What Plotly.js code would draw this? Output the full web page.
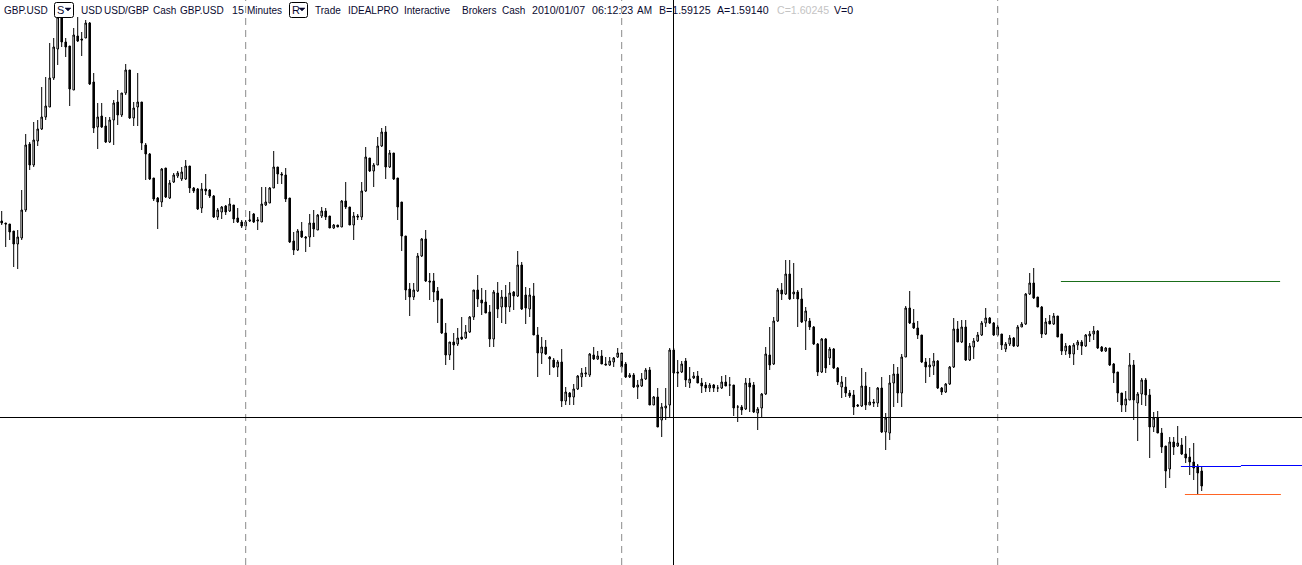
<!DOCTYPE html>
<html>
<head>
<meta charset="utf-8">
<script src="https://cdn.plot.ly/plotly-3.0.1.min.js"></script>
<style>
  html, body { margin: 0; padding: 0; background: #ffffff; }
  #chart { width: 1302px; height: 565px; }
</style>
</head>
<body>
<div id="chart"></div>
<script>
// ---- 15-minute GBP.USD bars ----
const openPrices = [
1.6179,1.6177,1.6176,1.6169,1.6156,1.6162,1.6190,1.6256,1.6235,1.6259,
1.6271,1.6283,1.6293,1.6322,1.6351,1.6383,1.6358,1.6354,1.6310,1.6364,
1.6361,1.6362,1.6377,1.6318,1.6273,1.6284,1.6274,1.6258,1.6280,1.6298,
1.6285,1.6307,1.6330,1.6282,1.6293,1.6298,1.6255,1.6246,1.6222,1.6202,
1.6198,1.6232,1.6202,1.6218,1.6224,1.6221,1.6221,1.6234,1.6212,1.6211,
1.6192,1.6211,1.6210,1.6204,1.6183,1.6188,1.6194,1.6189,1.6195,1.6182,
1.6178,1.6174,1.6179,1.6186,1.6179,1.6178,1.6195,1.6197,1.6212,1.6233,
1.6226,1.6225,1.6202,1.6159,1.6150,1.6169,1.6163,1.6163,1.6177,1.6170,
1.6184,1.6189,1.6184,1.6172,1.6175,1.6173,1.6199,1.6193,1.6175,1.6184,
1.6183,1.6209,1.6242,1.6229,1.6235,1.6254,1.6268,1.6233,1.6247,1.6222,
1.6198,1.6164,1.6111,1.6103,1.6109,1.6144,1.6161,1.6119,1.6119,1.6109,
1.6101,1.6067,1.6045,1.6058,1.6056,1.6063,1.6062,1.6068,1.6083,1.6110,
1.6100,1.6098,1.6088,1.6061,1.6107,1.6093,1.6103,1.6093,1.6108,1.6104,
1.6135,1.6105,1.6091,1.6104,1.6065,1.6047,1.6053,1.6043,1.6040,1.6033,
1.6038,1.5999,1.6007,1.6003,1.6011,1.6023,1.6026,1.6025,1.6045,1.6041,
1.6044,1.6036,1.6035,1.6038,1.6043,1.6047,1.6036,1.6023,1.6025,1.6013,
1.6014,1.6021,1.6030,1.5995,1.6003,1.5980,1.5992,1.5995,1.6027,1.6028,
1.6028,1.6039,1.6017,1.6022,1.6024,1.6017,1.6015,1.6012,1.6015,1.6012,
1.6012,1.6018,1.6015,1.6015,1.5993,1.5993,1.5991,1.6017,1.6015,1.5987,
1.5992,1.6006,1.6045,1.6036,1.6079,1.6110,1.6106,1.6126,1.6106,1.6108,
1.6101,1.6079,1.6079,1.6073,1.6056,1.6028,1.6061,1.6042,1.6051,1.6032,
1.6013,1.6013,1.6007,1.6005,1.5995,1.5994,1.6014,1.5995,1.5998,1.5997,
1.6012,1.5968,1.5967,1.6017,1.6026,1.6007,1.6043,1.6092,1.6077,1.6072,
1.6065,1.6038,1.6033,1.6034,1.6039,1.6012,1.6008,1.6016,1.6033,1.6071,
1.6058,1.6073,1.6040,1.6053,1.6059,1.6065,1.6077,1.6082,1.6077,1.6065,
1.6066,1.6051,1.6056,1.6062,1.6054,1.6073,1.6076,1.6106,1.6117,1.6103,
1.6093,1.6066,1.6079,1.6076,1.6084,1.6066,1.6049,1.6054,1.6046,1.6055,
1.6058,1.6054,1.6064,1.6066,1.6069,1.6053,1.6049,1.6052,1.6036,1.6028,
1.6007,1.5995,1.6000,1.6035,1.5997,1.6006,1.6020,1.6005,1.5973,1.5982,
1.5967,1.5954,1.5931,1.5958,1.5954,1.5955,1.5946,1.5943,1.5938,1.5934,
1.5929
];
const highPrices = [
1.6189,1.6177,1.6176,1.6169,1.6170,1.6210,1.6266,1.6258,1.6278,1.6280,
1.6313,1.6323,1.6357,1.6362,1.6385,1.6385,1.6362,1.6354,1.6372,1.6383,
1.6368,1.6380,1.6378,1.6327,1.6297,1.6297,1.6283,1.6283,1.6300,1.6310,
1.6307,1.6336,1.6330,1.6298,1.6327,1.6298,1.6257,1.6247,1.6222,1.6203,
1.6232,1.6232,1.6220,1.6227,1.6229,1.6233,1.6240,1.6234,1.6213,1.6212,
1.6217,1.6226,1.6211,1.6205,1.6192,1.6194,1.6195,1.6202,1.6195,1.6192,
1.6180,1.6180,1.6189,1.6187,1.6183,1.6213,1.6213,1.6213,1.6249,1.6233,
1.6228,1.6232,1.6202,1.6168,1.6171,1.6178,1.6164,1.6186,1.6190,1.6186,
1.6193,1.6192,1.6184,1.6176,1.6175,1.6200,1.6218,1.6193,1.6188,1.6186,
1.6218,1.6253,1.6242,1.6237,1.6263,1.6272,1.6274,1.6250,1.6247,1.6222,
1.6198,1.6164,1.6117,1.6117,1.6147,1.6162,1.6170,1.6127,1.6127,1.6113,
1.6101,1.6077,1.6058,1.6067,1.6072,1.6083,1.6075,1.6084,1.6110,1.6125,
1.6112,1.6110,1.6095,1.6110,1.6118,1.6110,1.6115,1.6118,1.6109,1.6149,
1.6138,1.6113,1.6112,1.6117,1.6073,1.6063,1.6060,1.6044,1.6042,1.6040,
1.6051,1.6013,1.6008,1.6016,1.6025,1.6032,1.6033,1.6047,1.6053,1.6049,
1.6050,1.6043,1.6043,1.6043,1.6052,1.6047,1.6038,1.6027,1.6027,1.6020,
1.6027,1.6032,1.6033,1.6004,1.6012,1.5997,1.6012,1.6052,1.6052,1.6040,
1.6039,1.6042,1.6033,1.6028,1.6029,1.6022,1.6018,1.6017,1.6016,1.6015,
1.6024,1.6025,1.6023,1.6015,1.5995,1.5995,1.6022,1.6022,1.6018,1.5993,
1.6007,1.6053,1.6073,1.6083,1.6112,1.6117,1.6140,1.6140,1.6137,1.6110,
1.6112,1.6093,1.6082,1.6074,1.6057,1.6062,1.6062,1.6053,1.6052,1.6033,
1.6024,1.6023,1.6010,1.6010,1.5996,1.6032,1.6028,1.6013,1.6001,1.6013,
1.6023,1.5987,1.6025,1.6036,1.6033,1.6046,1.6094,1.6109,1.6091,1.6079,
1.6065,1.6042,1.6042,1.6047,1.6040,1.6013,1.6017,1.6034,1.6082,1.6079,
1.6080,1.6080,1.6057,1.6062,1.6068,1.6079,1.6092,1.6083,1.6078,1.6075,
1.6066,1.6058,1.6065,1.6063,1.6075,1.6078,1.6107,1.6127,1.6132,1.6103,
1.6094,1.6082,1.6085,1.6087,1.6084,1.6066,1.6057,1.6055,1.6057,1.6060,
1.6060,1.6066,1.6069,1.6074,1.6070,1.6054,1.6053,1.6052,1.6037,1.6028,
1.6007,1.6009,1.6047,1.6040,1.6008,1.6022,1.6022,1.6011,1.5988,1.5989,
1.5972,1.5954,1.5963,1.5963,1.5974,1.5962,1.5964,1.5952,1.5957,1.5936,
1.5933
];
const lowPrices = [
1.6175,1.6153,1.6160,1.6133,1.6131,1.6160,1.6188,1.6230,1.6233,1.6254,
1.6270,1.6280,1.6293,1.6320,1.6335,1.6353,1.6343,1.6294,1.6310,1.6358,
1.6344,1.6362,1.6315,1.6267,1.6251,1.6272,1.6257,1.6257,1.6255,1.6275,
1.6283,1.6305,1.6281,1.6274,1.6274,1.6250,1.6220,1.6220,1.6199,1.6171,
1.6193,1.6202,1.6201,1.6217,1.6222,1.6219,1.6220,1.6207,1.6207,1.6190,
1.6187,1.6205,1.6202,1.6182,1.6180,1.6181,1.6185,1.6188,1.6177,1.6177,
1.6172,1.6170,1.6178,1.6177,1.6170,1.6178,1.6194,1.6197,1.6212,1.6216,
1.6216,1.6198,1.6157,1.6145,1.6149,1.6162,1.6148,1.6153,1.6163,1.6170,
1.6182,1.6180,1.6172,1.6171,1.6173,1.6173,1.6191,1.6175,1.6160,1.6180,
1.6180,1.6208,1.6228,1.6213,1.6235,1.6253,1.6221,1.6232,1.6220,1.6180,
1.6149,1.6100,1.6084,1.6100,1.6108,1.6143,1.6118,1.6100,1.6098,1.6077,
1.6066,1.6035,1.6040,1.6030,1.6054,1.6060,1.6061,1.6067,1.6080,1.6093,
1.6085,1.6087,1.6053,1.6053,1.6082,1.6077,1.6076,1.6088,1.6090,1.6103,
1.6090,1.6076,1.6083,1.6065,1.6023,1.6036,1.6045,1.6025,1.6032,1.6023,
1.5993,1.5995,1.5995,1.5995,1.6010,1.6013,1.6023,1.6023,1.6040,1.6040,
1.6036,1.6035,1.6034,1.6033,1.6042,1.6028,1.6022,1.6022,1.6012,1.6001,
1.6013,1.6020,1.5995,1.5995,1.5973,1.5963,1.5980,1.5982,1.6026,1.6013,
1.6027,1.6013,1.6012,1.6021,1.6017,1.6007,1.6008,1.6008,1.6008,1.6008,
1.6011,1.6014,1.6004,1.5984,1.5978,1.5985,1.5990,1.5988,1.5987,1.5970,
1.5982,1.6005,1.6030,1.6035,1.6078,1.6100,1.6105,1.6100,1.6101,1.6073,
1.6077,1.6050,1.6070,1.6055,1.6024,1.6027,1.6027,1.6035,1.6031,1.6015,
1.6002,1.6003,1.6002,1.5985,1.5993,1.5993,1.5990,1.5995,1.5993,1.5993,
1.5967,1.5950,1.5960,1.5993,1.5997,1.5993,1.6043,1.6076,1.6071,1.6061,
1.6037,1.6017,1.6023,1.6025,1.6011,1.6005,1.6007,1.6015,1.6032,1.6058,
1.6057,1.6039,1.6039,1.6041,1.6058,1.6064,1.6073,1.6076,1.6064,1.6064,
1.6050,1.6048,1.6054,1.6053,1.6053,1.6073,1.6075,1.6105,1.6101,1.6093,
1.6062,1.6065,1.6076,1.6075,1.6063,1.6045,1.6045,1.6042,1.6035,1.6050,
1.6045,1.6053,1.6058,1.6060,1.6051,1.6048,1.6048,1.6034,1.6017,1.5998,
1.5988,1.5988,1.6000,1.5980,1.5959,1.5995,1.5994,1.5942,1.5968,1.5967,
1.5947,1.5912,1.5922,1.5945,1.5953,1.5945,1.5937,1.5925,1.5920,1.5906,
1.5909
];
const closePrices = [
1.6177,1.6176,1.6168,1.6156,1.6163,1.6190,1.6255,1.6235,1.6260,1.6271,
1.6283,1.6294,1.6322,1.6353,1.6383,1.6358,1.6353,1.6311,1.6365,1.6359,
1.6360,1.6377,1.6316,1.6272,1.6283,1.6273,1.6258,1.6280,1.6297,1.6285,
1.6307,1.6330,1.6282,1.6292,1.6298,1.6257,1.6246,1.6221,1.6201,1.6198,
1.6231,1.6203,1.6217,1.6225,1.6227,1.6228,1.6234,1.6212,1.6209,1.6191,
1.6211,1.6209,1.6204,1.6183,1.6190,1.6193,1.6188,1.6196,1.6181,1.6178,
1.6174,1.6178,1.6180,1.6178,1.6180,1.6196,1.6198,1.6212,1.6233,1.6226,
1.6225,1.6201,1.6158,1.6150,1.6169,1.6163,1.6162,1.6177,1.6171,1.6185,
1.6189,1.6183,1.6172,1.6175,1.6173,1.6199,1.6193,1.6175,1.6184,1.6183,
1.6209,1.6243,1.6229,1.6235,1.6254,1.6268,1.6233,1.6247,1.6221,1.6193,
1.6164,1.6110,1.6103,1.6110,1.6144,1.6161,1.6119,1.6118,1.6108,1.6100,
1.6067,1.6045,1.6058,1.6055,1.6062,1.6061,1.6068,1.6083,1.6110,1.6101,
1.6097,1.6087,1.6061,1.6108,1.6091,1.6103,1.6093,1.6107,1.6104,1.6135,
1.6091,1.6092,1.6105,1.6065,1.6047,1.6053,1.6046,1.6041,1.6033,1.6038,
1.5999,1.6008,1.6003,1.6011,1.6024,1.6027,1.6027,1.6046,1.6041,1.6044,
1.6036,1.6035,1.6039,1.6042,1.6047,1.6033,1.6023,1.6025,1.6013,1.6015,
1.6021,1.6030,1.5995,1.6003,1.5973,1.5993,1.5994,1.6050,1.6050,1.6027,
1.6036,1.6020,1.6021,1.6024,1.6017,1.6014,1.6012,1.6015,1.6012,1.6012,
1.6018,1.6014,1.6015,1.5992,1.5993,1.5990,1.6017,1.6013,1.5988,1.5991,
1.6006,1.6046,1.6035,1.6079,1.6110,1.6106,1.6126,1.6101,1.6108,1.6101,
1.6078,1.6089,1.6073,1.6056,1.6028,1.6061,1.6032,1.6051,1.6032,1.6018,
1.6018,1.6007,1.6004,1.5993,1.5994,1.6014,1.5995,1.5998,1.5997,1.6012,
1.5968,1.5982,1.6017,1.6026,1.6007,1.6043,1.6092,1.6077,1.6072,1.6065,
1.6038,1.6033,1.6035,1.6039,1.6012,1.6008,1.6016,1.6033,1.6071,1.6058,
1.6073,1.6040,1.6054,1.6059,1.6065,1.6077,1.6082,1.6077,1.6065,1.6073,
1.6055,1.6056,1.6062,1.6054,1.6073,1.6076,1.6106,1.6117,1.6102,1.6093,
1.6066,1.6078,1.6076,1.6084,1.6063,1.6049,1.6054,1.6046,1.6055,1.6058,
1.6054,1.6065,1.6066,1.6069,1.6052,1.6049,1.6052,1.6035,1.6027,1.6007,
1.5995,1.6001,1.6035,1.6000,1.6006,1.6020,1.6005,1.5973,1.5982,1.5967,
1.5953,1.5929,1.5958,1.5953,1.5957,1.5946,1.5942,1.5938,1.5932,1.5927,
1.5914
];
const barIndex = openPrices.map((_, i) => i);

// day separators (bar index), crosshair, horizontal level lines
const sessionBreaks = [61, 155, 249];
const crosshairBar = 167.95;
const crosshairPrice = 1.59825;
const levelNames  = ['green', 'blueA', 'blueB', 'orange'];
const levelPrices = [1.61185, 1.59335, 1.59345, 1.59055];
const levelStart  = [264.8, 294.8, 309.8, 295.8];
const levelEnd    = [319.6, 309.8, 325.1, 319.8];
const levelColors = ['#1a6e1a', '#0000ff', '#0000ff', '#ff6424'];

// header texts
const headerWords = ['GBP.USD','USD','USD/GBP','Cash','GBP.USD','15','Minutes','Trade','IDEALPRO',
  'Interactive','Brokers','Cash','2010/01/07','06:12:23','AM','B=1.59125','A=1.59140','C=1.60245','V=0'];
const headerX = [4,81,104,153,180,232,247,315,348,404,462,502,532,592,637,659,717,777,834];
const headerColors = headerWords.map(w => w.startsWith('C=') ? '#c4c4c4' : '#0a0a30');
const headerSizes = headerWords.map(w => /[0-9]/.test(w) ? 10.6 : 10);
const headerBoxes = [{label:'S', x0:54, x1:73}, {label:'R', x0:289, x1:307}];

const W = 1302, H = 565;
const px = x => x / W;
const py = y => 1 - y / H;

const traces = [{
  type: 'candlestick',
  x: barIndex,
  open: openPrices, high: highPrices, low: lowPrices, close: closePrices,
  increasing: {line: {color: '#000000', width: 1}, fillcolor: '#ffffff'},
  decreasing: {line: {color: '#000000', width: 1}, fillcolor: '#000000'},
  whiskerwidth: 0,
  hoverinfo: 'skip',
  showlegend: false
}];
levelPrices.forEach((p, i) => {
  traces.push({
    type: 'scatter', mode: 'lines',
    x: [levelStart[i], levelEnd[i]], y: [p, p],
    line: {color: levelColors[i], width: 1},
    hoverinfo: 'skip', showlegend: false, name: levelNames[i]
  });
});

const shapes = [];
sessionBreaks.forEach(b => shapes.push({
  type: 'line', xref: 'x', yref: 'paper', x0: b, x1: b, y0: 0, y1: 1,
  line: {color: '#8a8a8a', width: 1, dash: '7px,5px'}
}));
shapes.push({type: 'line', xref: 'x', yref: 'paper', x0: crosshairBar, x1: crosshairBar, y0: 0, y1: 1,
  line: {color: '#000000', width: 1}});
shapes.push({type: 'line', xref: 'paper', yref: 'y', x0: 0, x1: 1, y0: crosshairPrice, y1: crosshairPrice,
  line: {color: '#000000', width: 1}});

const annotations = [];
headerWords.forEach((w, i) => annotations.push({
  xref: 'paper', yref: 'paper', x: px(headerX[i] - 2), y: py(10),
  xanchor: 'left', yanchor: 'middle', showarrow: false, text: w,
  font: {family: 'Liberation Sans, Arial, sans-serif', size: headerSizes[i], color: headerColors[i]}
}));
headerBoxes.forEach(b => {
  const r = 2, x0 = b.x0 + 0.5, x1 = b.x1 + 0.5, y0 = 2.5, y1 = 17.5;
  const path = `M ${px(x0 + r)} ${py(y0)} L ${px(x1 - r)} ${py(y0)} Q ${px(x1)} ${py(y0)} ${px(x1)} ${py(y0 + r)} ` +
    `L ${px(x1)} ${py(y1 - r)} Q ${px(x1)} ${py(y1)} ${px(x1 - r)} ${py(y1)} L ${px(x0 + r)} ${py(y1)} ` +
    `Q ${px(x0)} ${py(y1)} ${px(x0)} ${py(y1 - r)} L ${px(x0)} ${py(y0 + r)} Q ${px(x0)} ${py(y0)} ${px(x0 + r)} ${py(y0)} Z`;
  shapes.push({type: 'path', xref: 'paper', yref: 'paper', path: path,
    fillcolor: '#ffffff', line: {color: '#000000', width: 1}, layer: 'above'});
  const tx = b.x1 - 8, ty = 8;
  shapes.push({type: 'path', xref: 'paper', yref: 'paper',
    path: `M ${px(tx)} ${py(ty)} L ${px(tx + 6)} ${py(ty)} L ${px(tx + 3)} ${py(ty + 3)} Z`,
    fillcolor: '#0a0a30', line: {color: '#0a0a30', width: 0.5}, layer: 'above'});
  annotations.push({
    xref: 'paper', yref: 'paper', x: px(b.x0 + 1), y: py(10),
    xanchor: 'left', yanchor: 'middle', showarrow: false, text: b.label,
    font: {family: 'Liberation Sans, Arial, sans-serif', size: 11, color: '#0a0a30'}
  });
});

const layout = {
  width: W, height: H,
  margin: {l: 0, r: 0, t: 0, b: 0, pad: 0},
  paper_bgcolor: '#ffffff', plot_bgcolor: '#ffffff',
  showlegend: false,
  boxgap: 0.45,
  xaxis: {range: [-0.425, 325.075], visible: false, fixedrange: true, rangeslider: {visible: false}},
  yaxis: {range: [1.5835, 1.6400], visible: false, fixedrange: true},
  shapes: shapes,
  annotations: annotations
};

Plotly.newPlot('chart', traces, layout, {displayModeBar: false, staticPlot: true});
</script>
</body>
</html>
